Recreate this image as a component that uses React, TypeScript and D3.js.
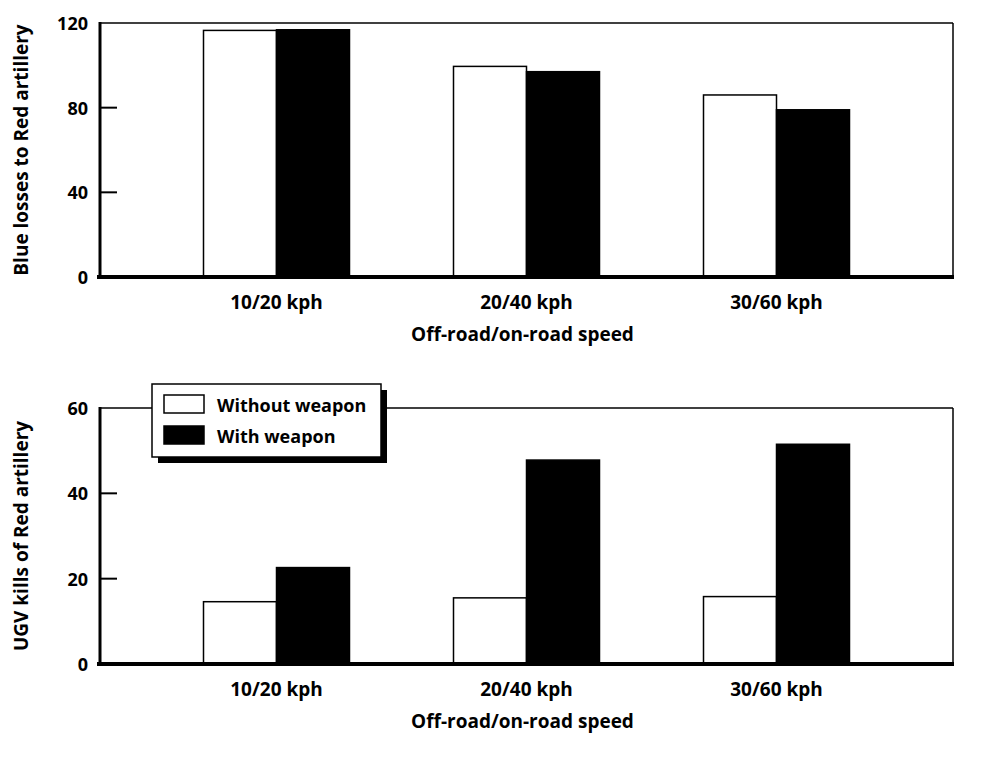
import React from "react";
import * as d3 from "d3";

const categories = ["10/20 kph", "20/40 kph", "30/60 kph"];
const seriesNames = ["Without weapon", "With weapon"];
const lossesWithout = [116.5, 99.5, 86];
const lossesWith = [116.8, 97, 79];
const killsWithout = [14.6, 15.5, 15.8];
const killsWith = [22.6, 47.8, 51.5];
const lossTicks = [0, 40, 80, 120];
const killTicks = [0, 20, 40, 60];

const FONT = "'Open Sans', sans-serif";
const LEFT = 100;
const RIGHT = 953;

type PanelProps = {
  top: number;
  bottom: number;
  ticks: number[];
  without: number[];
  withW: number[];
  yTitle: string;
  xTitle: string;
};

function Panel({ top, bottom, ticks, without, withW, yTitle, xTitle }: PanelProps) {
  const yMax = ticks[ticks.length - 1];
  const y = d3.scaleLinear().domain([0, yMax]).range([bottom, top]);
  const x = d3
    .scaleBand<string>()
    .domain(categories)
    .range([LEFT, RIGHT])
    .paddingInner(0.416)
    .paddingOuter(0.414);
  const sub = d3
    .scaleBand<number>()
    .domain([0, 1])
    .range([0, x.bandwidth()]);
  const series = [without, withW];
  return (
    <g>
      <line x1={LEFT} x2={RIGHT} y1={top} y2={top} stroke="#000" strokeWidth={1.5} />
      <line x1={RIGHT} x2={RIGHT} y1={top} y2={bottom} stroke="#000" strokeWidth={1.5} />
      {categories.map((c, i) =>
        series.map((vals, s) => {
          const bx = (x(c) as number) + (sub(s) as number);
          const by = y(vals[i]);
          return (
            <rect
              key={c + s}
              x={bx}
              y={by}
              width={sub.bandwidth()}
              height={bottom - by}
              fill={s === 0 ? "#fff" : "#000"}
              stroke="#000"
              strokeWidth={1.5}
            />
          );
        })
      )}
      <line x1={LEFT} x2={LEFT} y1={top - 1} y2={bottom} stroke="#000" strokeWidth={3} />
      <line x1={LEFT - 3} x2={RIGHT + 1} y1={bottom} y2={bottom} stroke="#000" strokeWidth={4} />
      {ticks.map((t) => (
        <g key={t}>
          {t !== 0 && t !== yMax && (
            <line x1={LEFT} x2={LEFT + 17} y1={y(t)} y2={y(t)} stroke="#000" strokeWidth={2} />
          )}
          <text
            x={88}
            y={y(t)}
            textAnchor="end"
            dominantBaseline="central"
            fontFamily={FONT}
            fontWeight={700}
            fontSize={18}
          >
            {t}
          </text>
        </g>
      ))}
      {categories.map((c) => (
        <text
          key={c}
          x={(x(c) as number) + x.bandwidth() / 2}
          y={bottom + 25}
          textAnchor="middle"
          dominantBaseline="central"
          fontFamily={FONT}
          fontWeight={700}
          fontSize={19}
        >
          {c}
        </text>
      ))}
      <text
        x={(LEFT + RIGHT) / 2 - 4}
        y={bottom + 57}
        textAnchor="middle"
        dominantBaseline="central"
        fontFamily={FONT}
        fontWeight={700}
        fontSize={19}
      >
        {xTitle}
      </text>
      <text
        transform={`translate(21,${(top + bottom) / 2}) rotate(-90)`}
        textAnchor="middle"
        dominantBaseline="central"
        fontFamily={FONT}
        fontWeight={700}
        fontSize={19}
      >
        {yTitle}
      </text>
    </g>
  );
}

function Legend({ x0, y0 }: { x0: number; y0: number }) {
  const w = 229;
  const h = 73;
  return (
    <g>
      <rect x={x0 + 6} y={y0 + 6} width={w} height={h} fill="#000" />
      <rect x={x0} y={y0} width={w} height={h} fill="#fff" stroke="#000" strokeWidth={1.5} />
      {seriesNames.map((n, i) => (
        <g key={n}>
          <rect
            x={x0 + 12}
            y={y0 + 11 + i * 31}
            width={40}
            height={18}
            fill={i === 0 ? "#fff" : "#000"}
            stroke="#000"
            strokeWidth={1.5}
          />
          <text
            x={x0 + 65}
            y={y0 + 21 + i * 31}
            dominantBaseline="central"
            fontFamily={FONT}
            fontWeight={700}
            fontSize={18}
          >
            {n}
          </text>
        </g>
      ))}
    </g>
  );
}

export default function App() {
  return (
    <svg
      width={999}
      height={759}
      style={{ position: "absolute", left: 0, top: 0, background: "#fff" }}
    >
      <rect x={0} y={0} width={999} height={759} fill="#fff" />
      <Panel
        top={23}
        bottom={277}
        ticks={lossTicks}
        without={lossesWithout}
        withW={lossesWith}
        yTitle="Blue losses to Red artillery"
        xTitle="Off-road/on-road speed"
      />
      <Panel
        top={408}
        bottom={664}
        ticks={killTicks}
        without={killsWithout}
        withW={killsWith}
        yTitle="UGV kills of Red artillery"
        xTitle="Off-road/on-road speed"
      />
      <Legend x0={152} y0={384} />
    </svg>
  );
}
